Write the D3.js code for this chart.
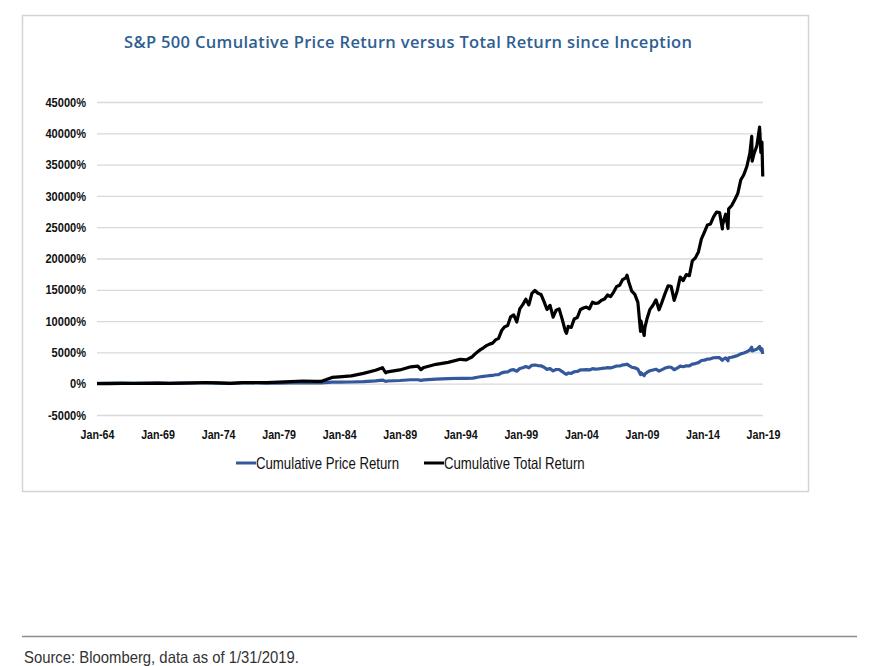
<!DOCTYPE html>
<html>
<head>
<meta charset="utf-8">
<script src="https://cdn.jsdelivr.net/npm/d3@7"></script>
<style>
  html, body { margin: 0; padding: 0; background: #fff; }
  svg { display: block; }
</style>
</head>
<body>
<svg id="chart" width="876" height="666"></svg>
<script>
// ---------------- DATA ----------------
const title = "S&P 500 Cumulative Price Return versus Total Return since Inception";
const seriesNames = ["Cumulative Price Return", "Cumulative Total Return"];
const yTicks = [-5000, 0, 5000, 10000, 15000, 20000, 25000, 30000, 35000, 40000, 45000];
const xTickLabels = ["Jan-64","Jan-69","Jan-74","Jan-79","Jan-84","Jan-89","Jan-94","Jan-99","Jan-04","Jan-09","Jan-14","Jan-19"];
const sourceNote = "Source: Bloomberg, data as of 1/31/2019.";

const dates = [
  "1964-01","1965-01","1966-01","1967-01","1968-01","1969-01","1970-01","1971-01","1972-01","1973-01",
  "1974-01","1975-01","1976-01","1977-01","1978-01","1979-01","1980-01","1981-01","1982-01",
  "1982-07","1983-06","1984-01","1985-01","1986-01","1987-01","1987-08","1987-11","1988-01","1989-01",
  "1989-12","1990-07","1990-10","1991-01","1992-01","1993-01","1994-01","1994-07",
  "1995-01","1995-03","1995-06","1995-09","1995-12",
  "1996-03","1996-06","1996-09","1996-12",
  "1997-03","1997-06","1997-09","1997-12",
  "1998-03","1998-06","1998-09","1998-12",
  "1999-03","1999-06","1999-09","1999-12",
  "2000-03","2000-06","2000-09","2000-12",
  "2001-03","2001-06","2001-09","2001-12",
  "2002-03","2002-06","2002-09","2002-10-09","2002-12",
  "2003-03","2003-06","2003-09","2003-12",
  "2004-03","2004-06","2004-09","2004-12",
  "2005-03","2005-06","2005-09","2005-12",
  "2006-03","2006-06","2006-09","2006-12",
  "2007-03","2007-06","2007-09","2007-10-09","2007-12",
  "2008-03","2008-06","2008-09","2008-11-20","2008-12",
  "2009-03-09","2009-03-31","2009-06","2009-09","2009-12",
  "2010-03","2010-06","2010-09","2010-12",
  "2011-03","2011-06","2011-09","2011-12",
  "2012-03","2012-06","2012-09","2012-12",
  "2013-03","2013-06","2013-09","2013-12",
  "2014-03","2014-06","2014-09","2014-12",
  "2015-03","2015-06","2015-08-25","2015-09","2015-12",
  "2016-02-11","2016-03","2016-06","2016-09","2016-12",
  "2017-03","2017-06","2017-09","2017-12",
  "2018-01-26","2018-02-08","2018-03-31","2018-06-30","2018-09-20","2018-10-29","2018-11-30","2018-12-24"
];

const priceReturn = [
  59,79,90,79,90,112,75,98,114,139,
  100,59,108,110,84,106,135,168,147,
  121,246,236,271,337,465,580,374,430,512,
  628,634,529,607,743,805,873,844,
  869,931,1024,1104,1170,
  1230,1281,1316,1426,
  1461,1725,1853,1900,
  2170,2236,1997,2434,
  2552,2731,2543,2929,
  2991,2900,2861,2622,
  2292,2424,2044,2267,
  2265,1941,1580,1500,1714,
  1648,1910,1954,2193,
  2222,2253,2199,2399,
  2335,2356,2434,2473,
  2570,2519,2655,2824,
  2830,2999,3048,3127,2927,
  2628,2539,2304,1450,1762,
  1296,1545,1795,2079,2199,
  2310,2026,2253,2494,
  2634,2624,2232,2494,
  2803,2708,2871,2840,
  3135,3211,3368,3710,
  3760,3941,3966,4145,
  4164,4154,3750,3859,4114,
  3671,4147,4228,4370,4516,
  4772,4896,5094,5413,
  5820,5222,5345,5504,5941,5345,5591,4747
];

const totalReturn = [
  0,20,40,30,60,80,50,100,140,190,
  120,60,160,190,170,240,320,430,380,
  360,1000,1100,1250,1650,2150,2550,1750,1900,2200,
  2700,2800,2250,2600,3100,3400,3900,3800,
  4310,4640,5070,5440,5740,
  6080,6320,6480,7000,
  7240,8480,9080,9300,
  10680,11000,9860,11940,
  12630,13490,12590,14440,
  14890,14450,14260,13100,
  11860,12520,10620,11740,
  11960,10310,8470,8060,9150,
  8990,10350,10580,11820,
  12090,12250,11970,13020,
  12810,12920,13330,13540,
  14180,13910,14640,15540,
  15720,16630,16900,17320,16250,
  14770,14280,13000,8350,10050,
  7700,8950,10320,11880,12540,
  13400,11810,13080,14430,
  15620,15560,13310,14820,
  17030,16470,17430,17250,
  19630,20100,21050,23140,
  24220,25360,25520,26640,
  27400,27340,24730,25440,27080,
  24790,27930,28460,29400,30370,
  32540,33370,34700,36840,
  39500,35560,36650,38010,40980,36930,38600,33100
];

const seriesColors = ["#34589c", "#000000"];

// ---------------- DRAW ----------------
const svg = d3.select("#chart");
const sansFont = "'Liberation Sans', Arial, sans-serif";

// squeeze a text horizontally (Calibri-like narrow look)
function condense(sel, factor) {
  sel.each(function () {
    const w = this.getComputedTextLength();
    d3.select(this).attr("textLength", w * factor).attr("lengthAdjust", "spacingAndGlyphs");
  });
}

// outer chart border
svg.append("rect")
  .attr("x", 22.5).attr("y", 15.5).attr("width", 786).attr("height", 476)
  .attr("fill", "#fff").attr("stroke", "#d4d4d4").attr("stroke-width", 1.5);

svg.append("text")
  .attr("x", 408).attr("y", 48)
  .attr("text-anchor", "middle")
  .attr("font-family", "'Open Sans', 'Noto Sans', sans-serif")
  .attr("font-weight", 600)
  .attr("font-size", 16.5)
  .attr("fill", "#2f5f92")
  .attr("textLength", 568).attr("lengthAdjust", "spacing")
  .text(title);

const parse = s => d3.isoParse(s.length === 7 ? s + "-01" : s);
const xDates = dates.map(parse);

const x = d3.scaleUtc()
  .domain([new Date(Date.UTC(1964, 0, 1)), new Date(Date.UTC(2019, 0, 1))])
  .range([97, 763]);
const y = d3.scaleLinear().domain([-5000, 45000]).range([415, 102]);

// gridlines + y labels
const yAxis = d3.axisLeft(y).tickValues(yTicks)
  .tickSize(-(x.range()[1] - x.range()[0]))
  .tickPadding(11)
  .tickFormat(d => d + "%");
const gy = svg.append("g").attr("transform", `translate(${x.range()[0]},0)`).call(yAxis);
gy.select(".domain").remove();
gy.selectAll(".tick line").attr("stroke", "#d9d9d9").attr("stroke-width", 1.3);
gy.selectAll(".tick text")
  .attr("font-family", sansFont).attr("font-weight", "bold")
  .attr("font-size", 13).attr("fill", "#111")
  .call(condense, 0.85);

// x labels
const xTickDates = xTickLabels.map((_, i) => new Date(Date.UTC(1964 + 5 * i, 0, 1)));
const xAxis = d3.axisBottom(x).tickValues(xTickDates)
  .tickSize(0).tickPadding(15)
  .tickFormat((d, i) => xTickLabels[i]);
const gx = svg.append("g").attr("transform", `translate(0,${y(-5000)})`).call(xAxis);
gx.select(".domain").remove();
gx.selectAll(".tick text")
  .attr("font-family", sansFont).attr("font-weight", "bold")
  .attr("font-size", 13).attr("fill", "#111")
  .call(condense, 0.82);

// lines
const line = d3.line().x((d, i) => x(xDates[i])).y(d => y(d));
[priceReturn, totalReturn].forEach((vals, k) => {
  svg.append("path")
    .datum(vals)
    .attr("fill", "none")
    .attr("stroke", seriesColors[k])
    .attr("stroke-width", 3.2)
    .attr("stroke-linejoin", "round")
    .attr("d", line);
});

// legend
const legendX = [236, 424];
legendX.forEach((lx, k) => {
  const g = svg.append("g").attr("transform", `translate(${lx},463)`);
  g.append("line").attr("x1", 0).attr("x2", 20).attr("y1", 0).attr("y2", 0)
    .attr("stroke", seriesColors[k]).attr("stroke-width", 3);
  g.append("text").attr("x", 20).attr("y", 6)
    .attr("font-family", sansFont).attr("font-size", 16.5).attr("fill", "#111")
    .text(seriesNames[k])
    .call(condense, 0.8);
});

// footer
svg.append("line").attr("x1", 22).attr("x2", 857).attr("y1", 636.5).attr("y2", 636.5)
  .attr("stroke", "#8c8c8c").attr("stroke-width", 1.5);
svg.append("text").attr("x", 24).attr("y", 663)
  .attr("font-family", sansFont).attr("font-size", 16.5).attr("fill", "#333")
  .text(sourceNote)
  .call(condense, 0.9);
</script>
</body>
</html>
